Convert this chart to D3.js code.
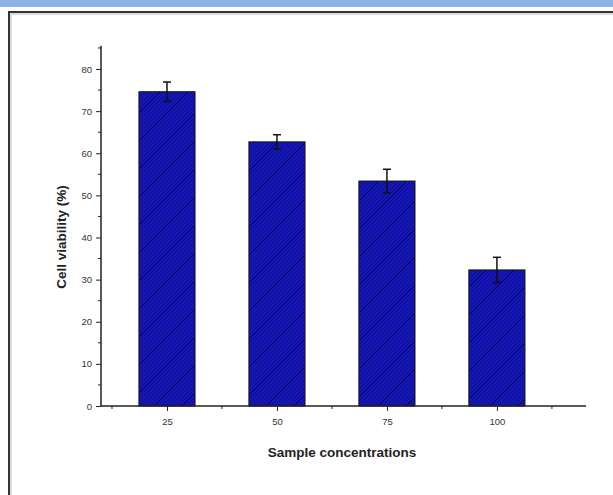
<!DOCTYPE html>
<meta charset='utf-8'>
<head>
    <title>Cell viability</title>
    <script src='https://cdn.jsdelivr.net/npm/d3@7/dist/d3.min.js'></script>
</head>

<style>
    body { margin: 0; background: #fff; }
    svg { display: block; font-family: 'Liberation Sans', Arial, sans-serif; }
    .tick text { font-size: 9.5px; fill: #333; }
    .domain, .tick line { stroke: #222; }
</style>

<svg></svg>

<script>
    var vWidth = 613;
    var vHeight = 495;

    // Data
    var categories = ['25', '50', '75', '100'];
    var viability = [74.6, 62.7, 53.4, 32.3];
    var errors = [2.3, 1.7, 2.8, 3.0];
    var yTicks = [0, 10, 20, 30, 40, 50, 60, 70, 80];

    var svg = d3.select('svg').attr('width', vWidth).attr('height', vHeight);

    // page frame
    svg.append('rect').attr('x', 0).attr('y', 0).attr('width', vWidth).attr('height', 7)
        .attr('fill', '#8db3e2');
    svg.append('rect').attr('x', 9).attr('y', 12).attr('width', 640).attr('height', 520)
        .attr('fill', 'none').attr('stroke', '#333').attr('stroke-width', 2);
    svg.append('rect').attr('x', 11).attr('y', 14).attr('width', 640).attr('height', 520)
        .attr('fill', 'none').attr('stroke', '#bbb').attr('stroke-width', 1);

    // hatch pattern
    var defs = svg.append('defs');
    var pat = defs.append('pattern').attr('id', 'hatch')
        .attr('patternUnits', 'userSpaceOnUse').attr('width', 4).attr('height', 4);
    pat.append('rect').attr('width', 4).attr('height', 4).attr('fill', '#1616b2');
    pat.append('path').attr('d', 'M-1,1 l2,-2 M0,4 l4,-4 M3,5 l2,-2')
        .attr('stroke', '#06068c').attr('stroke-width', 0.6);
    var pat2 = defs.append('pattern').attr('id', 'hatch2')
        .attr('patternUnits', 'userSpaceOnUse').attr('width', 28).attr('height', 28);
    pat2.append('rect').attr('width', 28).attr('height', 28).attr('fill', 'url(#hatch)');
    pat2.append('path').attr('d', 'M-2,2 l4,-4 M0,28 l28,-28 M26,30 l4,-4')
        .attr('stroke', '#00004a').attr('stroke-width', 1);

    // scales
    var x = d3.scaleLinear().domain([0.4, 4.81]).range([101, 586]);
    var y = d3.scaleLinear().domain([0, 80]).range([406, 69]);
    var bw = x(1.51) - x(1);

    var g = svg.append('g');

    // bars
    g.selectAll('rect.bar').data(viability).enter().append('rect')
        .attr('class', 'bar')
        .attr('x', function (d, i) { return x(i + 1) - bw / 2; })
        .attr('y', function (d) { return y(d); })
        .attr('width', bw)
        .attr('height', function (d) { return y(0) - y(d); })
        .attr('fill', 'url(#hatch2)')
        .attr('stroke', '#111').attr('stroke-width', 1);

    // error bars
    var eb = g.selectAll('g.err').data(viability).enter().append('g').attr('class', 'err')
        .attr('stroke', '#111').attr('stroke-width', 1.5);
    eb.append('line')
        .attr('x1', function (d, i) { return x(i + 1); })
        .attr('x2', function (d, i) { return x(i + 1); })
        .attr('y1', function (d, i) { return y(d - errors[i]); })
        .attr('y2', function (d, i) { return y(d + errors[i]); });
    eb.append('line')
        .attr('x1', function (d, i) { return x(i + 1) - 4; })
        .attr('x2', function (d, i) { return x(i + 1) + 4; })
        .attr('y1', function (d, i) { return y(d + errors[i]); })
        .attr('y2', function (d, i) { return y(d + errors[i]); });
    eb.append('line')
        .attr('x1', function (d, i) { return x(i + 1) - 4; })
        .attr('x2', function (d, i) { return x(i + 1) + 4; })
        .attr('y1', function (d, i) { return y(d - errors[i]); })
        .attr('y2', function (d, i) { return y(d - errors[i]); });

    // axes
    var yAxis = d3.axisLeft(y).tickValues(yTicks).tickSize(5).tickPadding(4);
    var yg = svg.append('g').attr('transform', 'translate(101,0)').call(yAxis);
    yg.select('.domain').remove();
    yg.append('line').attr('x1', 0).attr('x2', 0).attr('y1', y(0)).attr('y2', y(85.5))
        .attr('stroke', '#222').attr('stroke-width', 1.5);
    yg.selectAll('.minor').data(yTicks.slice(0, -1).map(function (d) { return d + 5; }).concat([85]))
        .enter().append('line').attr('class', 'minor')
        .attr('x1', 0).attr('x2', -3)
        .attr('y1', function (d) { return y(d); }).attr('y2', function (d) { return y(d); })
        .attr('stroke', '#222');

    var xAxis = d3.axisBottom(x).tickValues([1, 2, 3, 4])
        .tickFormat(function (d) { return categories[d - 1]; })
        .tickSize(5).tickPadding(7);
    var xg = svg.append('g').attr('transform', 'translate(0,406)').call(xAxis);
    xg.select('.domain').remove();
    xg.append('line').attr('x1', x.range()[0]).attr('x2', x.range()[1]).attr('y1', 0).attr('y2', 0)
        .attr('stroke', '#222').attr('stroke-width', 1.5);
    xg.selectAll('.minor').data([0.5, 1.5, 2.5, 3.5, 4.5]).enter().append('line')
        .attr('class', 'minor')
        .attr('x1', function (d) { return x(d); }).attr('x2', function (d) { return x(d); })
        .attr('y1', 0).attr('y2', 3).attr('stroke', '#222');

    // axis titles
    svg.append('text').attr('x', 342).attr('y', 457).attr('text-anchor', 'middle')
        .attr('font-size', 13.5).attr('font-weight', 'bold').attr('fill', '#222')
        .text('Sample concentrations');
    svg.append('text').attr('transform', 'translate(66,237) rotate(-90)')
        .attr('text-anchor', 'middle')
        .attr('font-size', 13.5).attr('font-weight', 'bold').attr('fill', '#222')
        .text('Cell viability (%)');
</script>
